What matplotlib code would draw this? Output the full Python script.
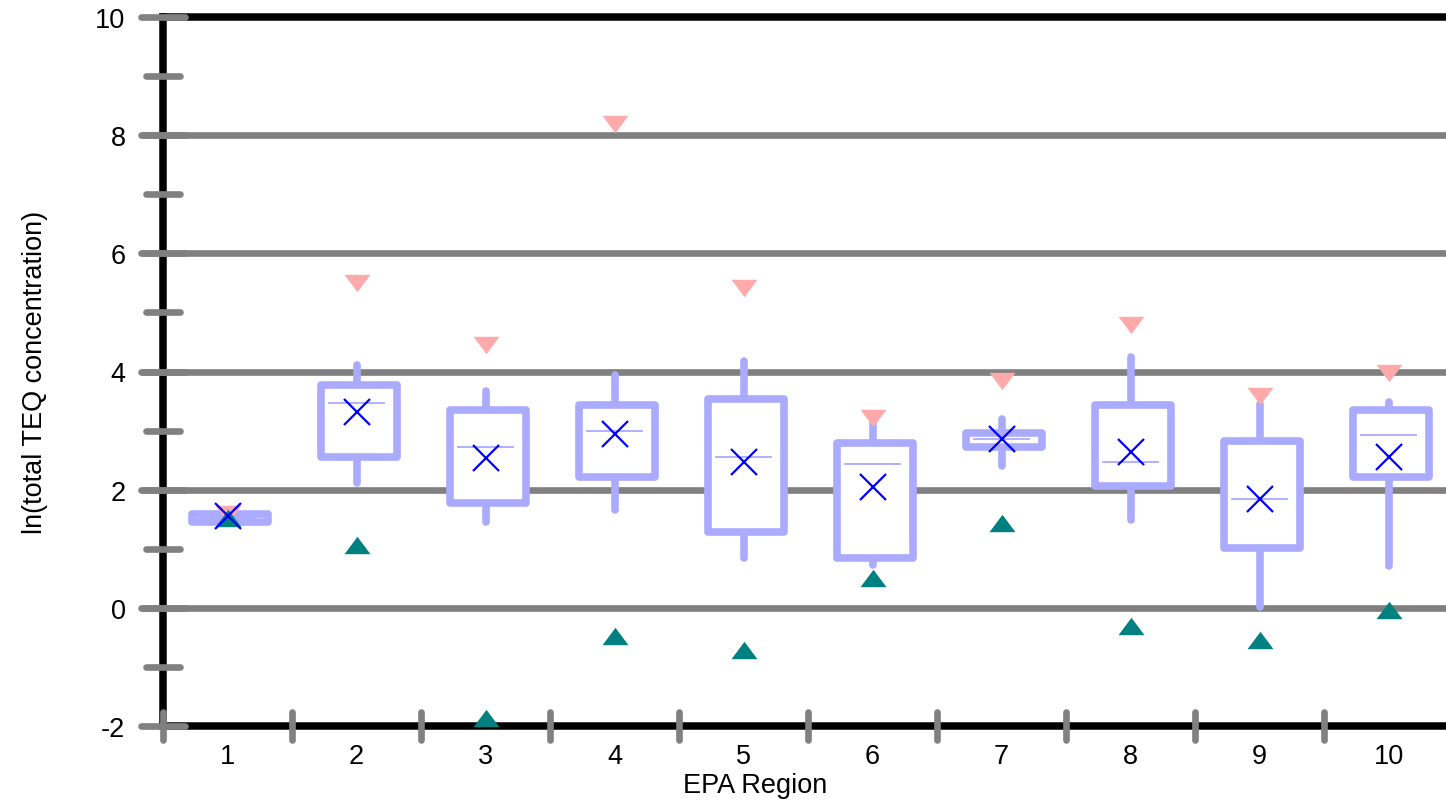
import matplotlib
matplotlib.use("Agg")
import matplotlib.pyplot as plt
from matplotlib.patches import Rectangle
from matplotlib.path import Path

# 箱ひげ図の値
regions = [1, 2, 3, 4, 5, 6, 7, 8, 9, 10]
q1 = [1.45, 2.56, 1.78, 2.22, 1.28, 0.84, 2.73, 2.06, 1.01, 2.22]
q3 = [1.58, 3.77, 3.34, 3.44, 3.54, 2.79, 2.96, 3.44, 2.83, 3.34]
medians = [1.52, 3.47, 2.73, 3.00, 2.56, 2.43, 2.86, 2.46, 1.85, 2.93]
means = [1.56, 3.32, 2.54, 2.94, 2.46, 2.04, 2.85, 2.64, 1.84, 2.55]
whisker_lo = [1.45, 2.12, 1.45, 1.65, 0.84, 0.72, 2.40, 1.48, 0.01, 0.70]
whisker_hi = [1.58, 4.11, 3.67, 3.94, 4.18, 3.15, 3.19, 4.25, 3.45, 3.49]
maxima = [1.58, 5.50, 4.45, 8.19, 5.41, 3.21, 3.84, 4.79, 3.58, 3.98]
minima = [1.52, 1.07, -1.87, -0.48, -0.71, 0.50, 1.44, -0.30, -0.55, -0.04]

y_major = [-2, 0, 2, 4, 6, 8, 10]
y_minor = [-1, 1, 3, 5, 7, 9]
grid_vals = [0, 2, 4, 6, 8]

plt.rcParams["font.family"] = ["Liberation Sans", "DejaVu Sans"]

box_col = "#AAAAFF"
grey = "#808080"
fs = 19.5

fig = plt.figure(figsize=(14.46, 8.03), dpi=100)
ax = fig.add_axes([163 / 1446, 1 - 727 / 803, 1290 / 1446, 709 / 803])
ax.set_xlim(0.5, 10.5)
ax.set_ylim(-2, 10)

for side in ["left", "top", "bottom"]:
    ax.spines[side].set_linewidth(5.4)
    ax.spines[side].set_color("black")
ax.spines["right"].set_visible(False)

# 目盛りラベル
ax.set_yticks(y_major)
ax.set_yticklabels([str(v) for v in y_major])
ax.set_xticks(regions)
ax.set_xticklabels([str(r) for r in regions])
ax.tick_params(axis="both", length=0, labelsize=fs)
ax.tick_params(axis="y", pad=27)
ax.tick_params(axis="x", pad=12)

ytr = ax.get_yaxis_transform()
xtr = ax.get_xaxis_transform()

# グリッド線
for v in grid_vals:
    ax.plot([-0.0155, 1.0], [v, v], transform=ytr, color=grey, lw=4.8,
            solid_capstyle="round", clip_on=False, zorder=3)

# y軸の目盛り線
for v in y_major:
    ax.plot([-0.0167, 0.0167], [v, v], transform=ytr, color=grey, lw=4.8,
            solid_capstyle="round", clip_on=False, zorder=3)
for v in y_minor:
    ax.plot([-0.0128, 0.0128], [v, v], transform=ytr, color=grey, lw=4.8,
            solid_capstyle="round", clip_on=False, zorder=3)

# x軸の目盛り線（区切り）
for i in range(len(regions)):
    b = regions[i] - 0.5
    ax.plot([b, b], [-0.0197, 0.0197], transform=xtr, color=grey, lw=4.8,
            solid_capstyle="round", clip_on=False, zorder=3)

down_tri = Path([(-1, 0.67), (1, 0.67), (0, -0.67), (-1, 0.67)])
up_tri = Path([(-1, -0.67), (1, -0.67), (0, 0.67), (-1, -0.67)])

w = 0.59
for i in range(len(regions)):
    x = regions[i]
    ax.plot([x, x], [q3[i], whisker_hi[i]], color=box_col, lw=5.5,
            solid_capstyle="round", zorder=4)
    ax.plot([x, x], [q1[i], whisker_lo[i]], color=box_col, lw=5.5,
            solid_capstyle="round", zorder=4)
    ax.add_patch(Rectangle((x + 0.02 - w / 2, q1[i]), w, q3[i] - q1[i],
                           facecolor="white", edgecolor=box_col, lw=5.5,
                           joinstyle="round", zorder=5))
    ax.plot([x - 0.215, x + 0.215], [medians[i], medians[i]], color=box_col,
            lw=1.3, zorder=6)

ax.plot(regions, maxima, linestyle="none", marker=down_tri, markersize=18.7,
        color="#FFAAAA", markeredgewidth=0, zorder=7, clip_on=False)
ax.plot(regions, minima, linestyle="none", marker=up_tri, markersize=18.7,
        color="#008080", markeredgewidth=0, zorder=8, clip_on=False)
ax.plot(regions, means, linestyle="none", marker="x", markersize=18.7,
        color="#0000FF", markeredgewidth=1.6, zorder=9)

fig.text(35 / 1446, 1 - 372 / 803, "ln(total TEQ concentration)", rotation=90,
         ha="center", va="center", fontsize=fs)
fig.text(755 / 1446, 1 - 786 / 803, "EPA Region", ha="center", va="center",
         fontsize=fs)

fig.savefig("out.png", dpi=100)
